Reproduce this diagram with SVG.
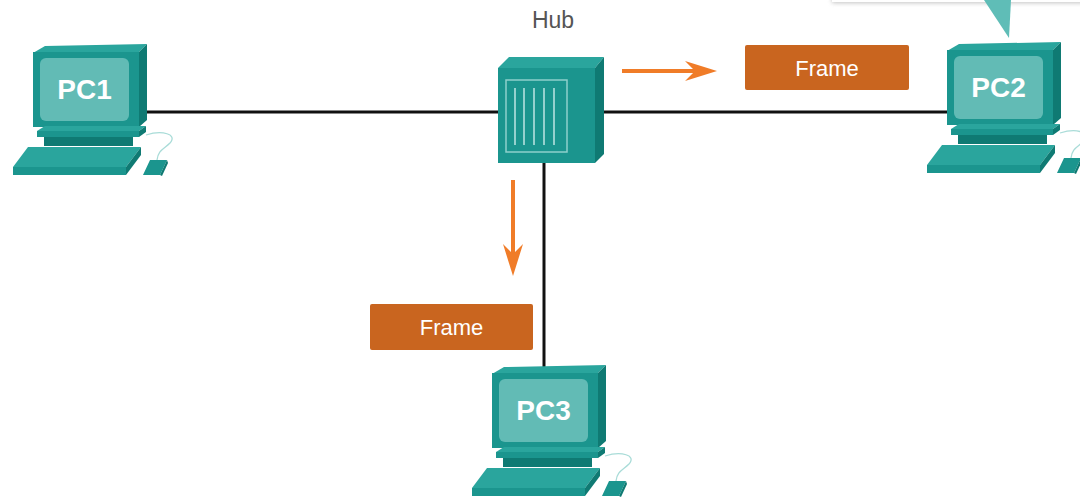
<svg xmlns="http://www.w3.org/2000/svg" xmlns:xlink="http://www.w3.org/1999/xlink" width="1080" height="498" viewBox="0 0 1080 498">
  <style>
    .link { stroke: #111; stroke-width: 3; fill: none; }
    .flow { stroke: #f07c28; stroke-width: 4; fill: none; }
    .frame { fill: #c9651f; }
    .frame-text { font-family: "Liberation Sans", Arial, sans-serif; font-size: 22px; fill: #fff; text-anchor: middle; }
    .pc-label { font-family: "Liberation Sans", Arial, sans-serif; font-weight: bold; font-size: 28px; fill: #fff; text-anchor: middle; }
    .hub-label { font-family: "Liberation Sans", Arial, sans-serif; font-size: 23px; fill: #555; text-anchor: middle; }
    .front { fill: #1b958e; }
    .top { fill: #2aa59d; }
    .side { fill: #0f7a73; }
    .screen { fill: #62bbb5; }
  </style>
  <defs>
    <!-- swept-back head; the line ends at the notch -->
    <marker id="arrow" viewBox="0 0 32 20" refX="10" refY="10" markerWidth="32" markerHeight="20" orient="auto" markerUnits="userSpaceOnUse">
      <path d="M0,0 L32,10 L0,20 L10,10 Z" fill="#f07c28"/>
    </marker>
    <filter id="shadow" x="-10%" y="-50%" width="120%" height="300%">
      <feGaussianBlur stdDeviation="2"/>
    </filter>
    <!-- desktop computer icon: monitor, stand, keyboard, mouse -->
    <g id="pc">
      <!-- monitor -->
      <polygon class="top" points="33,53 45,46 147,44 139,52"/>
      <rect class="front" x="33" y="52" width="106" height="75"/>
      <polygon class="side" points="139,52 147,44 147,120 139,127"/>
      <rect class="screen" x="40" y="58" width="89" height="63" rx="6"/>
      <!-- stand plate -->
      <polygon class="top" points="37,131 45,126 146,126 139,131"/>
      <rect class="front" x="37" y="131" width="102" height="6"/>
      <polygon class="side" points="139,131 146,126 146,132 139,137"/>
      <!-- neck -->
      <rect class="side" x="44" y="137" width="89" height="9"/>
      <!-- keyboard -->
      <polygon class="top" points="13,167 28,147 141,147 126,167"/>
      <rect class="front" x="13" y="167" width="113" height="8"/>
      <polygon class="side" points="126,167 141,147 141,155 126,175"/>
      <!-- mouse cable -->
      <path d="M146,135 C162,130 178,134 170,143 C164,149 158,150 157,160" fill="none" stroke="#a9dcd8" stroke-width="1.3"/>
      <!-- mouse -->
      <polygon class="front" points="143,175 150,160 167,160 160,175"/>
      <polygon class="side" points="160,175 167,160 168,163 162,176"/>
    </g>
  </defs>

  <rect width="1080" height="498" fill="#fff"/>

  <!-- callout edge at top right -->
  <g id="callout">
    <rect x="832" y="-10" width="260" height="13" fill="#888" opacity="0.5" filter="url(#shadow)"/>
    <rect x="832" y="-10" width="260" height="12" fill="#fff"/>
    <polygon points="984,0 1011,0 1009,38" fill="#5fbdb7"/>
  </g>

  <!-- cabling and frame direction -->
  <g id="connectors">
    <line class="link" x1="146" y1="112" x2="498" y2="112"/>
    <line class="link" x1="600" y1="112" x2="948" y2="112"/>
    <line class="link" x1="544" y1="160" x2="544" y2="374"/>
    <line class="flow" x1="622" y1="71" x2="695" y2="71" marker-end="url(#arrow)"/>
    <line class="flow" x1="513" y1="180" x2="513" y2="254" marker-end="url(#arrow)"/>
  </g>

  <g id="hub">
    <text class="hub-label" x="553" y="28">Hub</text>
    <polygon class="top" points="498,68 509,57 604,57 595,68"/>
    <rect class="front" x="498" y="68" width="97" height="95"/>
    <polygon class="side" points="595,68 604,57 604,154 595,163"/>
    <rect x="506" y="80" width="61" height="72" fill="none" stroke="#8fd0cb" stroke-width="1.5"/>
    <g stroke="#bfe6e3" stroke-width="1.5">
      <line x1="515" y1="88" x2="515" y2="145"/>
      <line x1="524" y1="88" x2="524" y2="145"/>
      <line x1="534" y1="88" x2="534" y2="145"/>
      <line x1="544" y1="88" x2="544" y2="145"/>
      <line x1="554" y1="88" x2="554" y2="145"/>
    </g>
  </g>

  <g id="pc1">
    <use xlink:href="#pc"/>
    <text class="pc-label" x="84.5" y="99">PC1</text>
  </g>

  <g id="pc2">
    <use xlink:href="#pc" transform="translate(914,-2)"/>
    <text class="pc-label" x="998.5" y="97">PC2</text>
  </g>

  <g id="pc3">
    <use xlink:href="#pc" transform="translate(459,321)"/>
    <text class="pc-label" x="543.5" y="420">PC3</text>
  </g>

  <g id="frame-right">
    <rect class="frame" x="745" y="45" width="164" height="45" rx="2"/>
    <text class="frame-text" x="827" y="76">Frame</text>
  </g>

  <g id="frame-down">
    <rect class="frame" x="370" y="304" width="163" height="46" rx="2"/>
    <text class="frame-text" x="451.5" y="335">Frame</text>
  </g>
</svg>
